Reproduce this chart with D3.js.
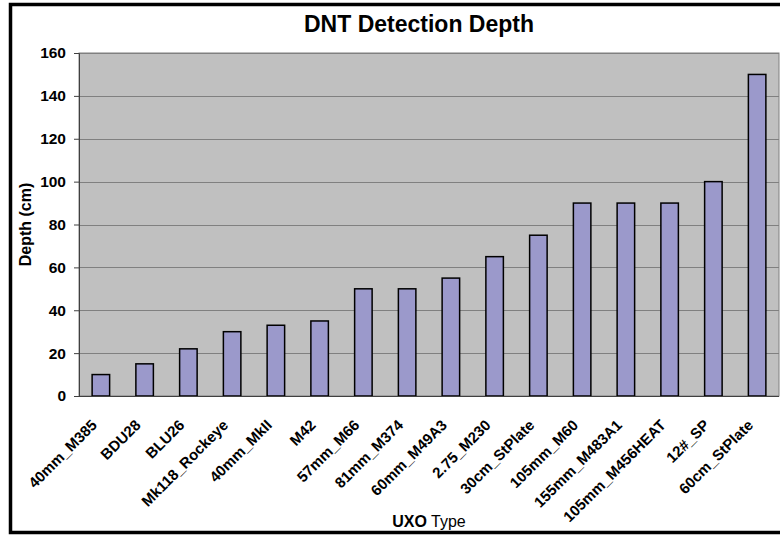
<!DOCTYPE html>
<html lang="en">
<head>
<meta charset="UTF-8">
<title>DNT Detection Depth</title>
<script src="https://d3js.org/d3.v7.min.js"></script>
<style>
    body{
        margin: 0;
        padding: 0;
        background: white;
    }
    svg{
        font-family: "Liberation Sans", Arial, sans-serif;
    }
</style>
</head>
<body>
<svg id="canvas" width="780" height="535"></svg>
<script>

// data
const uxoTypes = ["40mm_M385", "BDU28", "BLU26", "Mk118_Rockeye", "40mm_MkII", "M42",
    "57mm_M66", "81mm_M374", "60mm_M49A3", "2.75_M230", "30cm_StPlate", "105mm_M60",
    "155mm_M483A1", "105mm_M456HEAT", "12#_SP", "60cm_StPlate"]
const depths = [10, 15, 22, 30, 33, 35, 50, 50, 55, 65, 75, 90, 90, 90, 100, 150]
const yTicks = [0, 20, 40, 60, 80, 100, 120, 140, 160]

const canvas = d3.select("#canvas")

// plot area
const plotLeft = 79, plotRight = 779, plotTop = 53, plotBottom = 396

let x = d3.scaleBand()
    .domain(uxoTypes)
    .range([plotLeft, plotRight])
    .paddingInner(0.6)
    .paddingOuter(0.3)

let y = d3.scaleLinear()
    .domain([0, 160])
    .range([plotBottom, plotTop])

// outer frame
canvas.append("rect")
    .attr("x", 10.5).attr("y", 4.5)
    .attr("width", 800).attr("height", 528)
    .attr("fill", "white")
    .attr("stroke", "black")
    .attr("stroke-width", 3.5)

// grey plot background
canvas.append("rect")
    .attr("x", plotLeft).attr("y", plotTop)
    .attr("width", plotRight - plotLeft).attr("height", plotBottom - plotTop)
    .attr("fill", "#c0c0c0")
    .attr("stroke", "#808080")
    .attr("stroke-width", 1)

// gridlines
canvas.append("g")
    .selectAll("line")
    .data(yTicks.filter(d => d > 0))
    .enter()
    .append("line")
    .attr("x1", plotLeft).attr("x2", plotRight)
    .attr("y1", d => Math.round(y(d)) + 0.5)
    .attr("y2", d => Math.round(y(d)) + 0.5)
    .attr("stroke", "#808080")
    .attr("stroke-width", 1)

// bars
canvas.append("g")
    .selectAll("rect")
    .data(depths)
    .enter()
    .append("rect")
    .attr("x", (d, i) => x(uxoTypes[i]))
    .attr("y", d => y(d))
    .attr("width", x.bandwidth())
    .attr("height", d => plotBottom - y(d))
    .attr("fill", "#9b99cb")
    .attr("stroke", "black")
    .attr("stroke-width", 1.5)

// y axis
let yAxis = d3.axisLeft(y)
    .tickValues(yTicks)
    .tickSize(5)
    .tickPadding(8)

let yAxisG = canvas.append("g")
    .attr("transform", "translate(" + plotLeft + ",0)")
    .call(yAxis)

yAxisG.select(".domain").attr("stroke", "#404040")
yAxisG.selectAll(".tick line").attr("stroke", "#404040")
yAxisG.selectAll("text")
    .attr("font-size", 15.5)
    .attr("font-weight", "bold")
    .attr("fill", "black")

// x axis line
canvas.append("line")
    .attr("x1", plotLeft).attr("x2", plotRight)
    .attr("y1", plotBottom + 0.5).attr("y2", plotBottom + 0.5)
    .attr("stroke", "#404040")

// rotated category labels
canvas.append("g")
    .selectAll("text")
    .data(uxoTypes)
    .enter()
    .append("text")
    .attr("transform", d => "translate(" + (x(d) + x.bandwidth() / 2 - 3) + "," + (plotBottom + 30) + ") rotate(-45)")
    .attr("text-anchor", "end")
    .attr("font-size", 15)
    .attr("font-weight", "bold")
    .text(d => d)

// title
canvas.append("text")
    .attr("x", 419).attr("y", 32)
    .attr("text-anchor", "middle")
    .attr("font-size", 23)
    .attr("font-weight", "bold")
    .text("DNT Detection Depth")

// axis titles
let xTitle = canvas.append("text")
    .attr("x", 429).attr("y", 527)
    .attr("text-anchor", "middle")
    .attr("font-size", 16)
xTitle.append("tspan").attr("font-weight", "bold").text("UXO")
xTitle.append("tspan").text(" Type")

canvas.append("text")
    .attr("transform", "translate(31," + (plotTop + plotBottom) / 2 + ") rotate(-90)")
    .attr("text-anchor", "middle")
    .attr("font-size", 16)
    .attr("font-weight", "bold")
    .text("Depth (cm)")

</script>
</body>
</html>
